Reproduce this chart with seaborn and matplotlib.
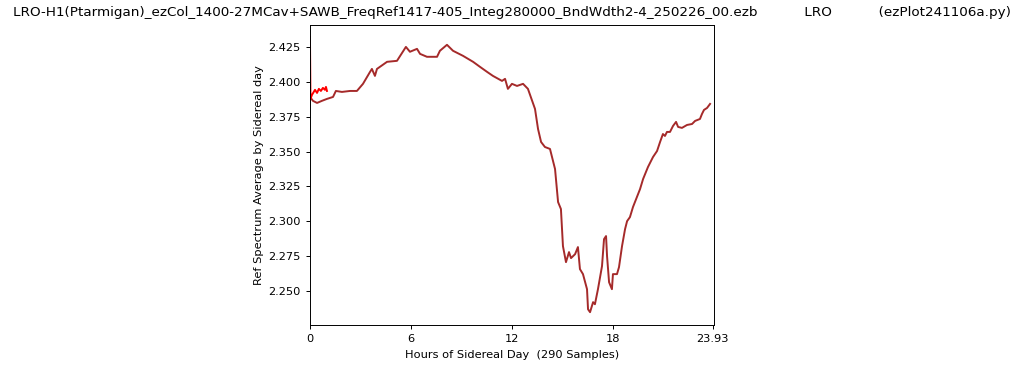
import matplotlib
matplotlib.use('Agg')
import matplotlib.pyplot as plt
import seaborn as sns
import pandas as pd

# Media por dia sideral (linha principal)
horas = [0.00, 0.18, 0.42, 0.71, 1.01, 1.37, 1.54, 1.90, 2.38, 2.79, 3.15, 3.57, 3.68, 3.86, 3.98,
         4.58, 5.17, 5.70, 5.94, 6.36, 6.54, 6.95, 7.55, 7.72, 8.14, 8.50, 9.09, 9.69, 10.10, 10.52,
         10.87, 11.41, 11.59, 11.76, 12.00, 12.30, 12.66, 12.95, 13.37, 13.55, 13.73, 13.96, 14.26,
         14.56, 14.74, 14.91, 15.03, 15.21, 15.39, 15.51, 15.75, 15.92, 16.04, 16.22, 16.46, 16.52,
         16.64, 16.82, 16.93, 17.11, 17.35, 17.47, 17.59, 17.65, 17.77, 17.94, 18.00, 18.24, 18.36,
         18.54, 18.72, 18.84, 19.01, 19.19, 19.61, 19.79, 20.08, 20.38, 20.62, 20.80, 20.97, 21.09,
         21.21, 21.39, 21.57, 21.75, 21.87, 22.10, 22.40, 22.70, 22.88, 23.17, 23.29, 23.41, 23.59, 23.77]
media = [2.3892, 2.3864, 2.3849, 2.3864, 2.3878, 2.3892, 2.3935, 2.3928, 2.3935, 2.3935, 2.3986,
         2.4072, 2.4093, 2.4043, 2.4093, 2.4144, 2.4151, 2.4251, 2.4216, 2.4237, 2.4201, 2.4180,
         2.4180, 2.4223, 2.4266, 2.4223, 2.4187, 2.4144, 2.4108, 2.4072, 2.4043, 2.4007, 2.4022,
         2.3950, 2.3986, 2.3971, 2.3986, 2.3950, 2.3806, 2.3662, 2.3569, 2.3533, 2.3519, 2.3375,
         2.3138, 2.3088, 2.2822, 2.2707, 2.2779, 2.2736, 2.2764, 2.2815, 2.2657, 2.2621, 2.2513,
         2.2369, 2.2348, 2.2420, 2.2405, 2.2513, 2.2678, 2.2872, 2.2894, 2.2750, 2.2563, 2.2513,
         2.2621, 2.2621, 2.2671, 2.2822, 2.2944, 2.3001, 2.3030, 2.3102, 2.3231, 2.3303, 2.3389,
         2.3461, 2.3504, 2.3569, 2.3626, 2.3612, 2.3641, 2.3641, 2.3684, 2.3713, 2.3677, 2.3670,
         2.3691, 2.3698, 2.3720, 2.3734, 2.3770, 2.3799, 2.3813, 2.3842]

# Primeira hora (linha vermelha)
horas_ini = [0.00, 0.03, 0.12, 0.30, 0.42, 0.53, 0.65, 0.77, 0.89, 0.95, 1.01]
media_ini = [2.4323, 2.3878, 2.3907, 2.3943, 2.3921, 2.3950, 2.3935, 2.3957, 2.3943, 2.3964, 2.3935]

x_ticks = [0, 6, 12, 18, 23.93]
x_labels = ['0', '6', '12', '18', '23.93']

titulo = ('LRO-H1(Ptarmigan)_ezCol_1400-27MCav+SAWB_FreqRef1417-405_Integ280000_BndWdth2-4_250226_00.ezb'
          '           LRO           (ezPlot241106a.py)')

df = pd.DataFrame({'Horas': horas, 'Media': media})
df_ini = pd.DataFrame({'Horas': horas_ini, 'Media': media_ini})

fig = plt.figure(figsize=(10.24, 3.7), dpi=100)
ax = fig.add_axes([0.3027, 0.1216, 0.3945, 0.8108])

sns.lineplot(x='Horas', y='Media', data=df, color='brown', linewidth=1.4, estimator=None, sort=False, ax=ax)
sns.lineplot(x='Horas', y='Media', data=df_ini, color='red', linewidth=1.4, estimator=None, sort=False, ax=ax)

ax.set_xlim(0, 24)
ax.set_ylim(2.2256, 2.4408)
ax.set_xticks(x_ticks)
ax.set_xticklabels(x_labels)
ax.yaxis.set_major_formatter(matplotlib.ticker.FormatStrFormatter('%.3f'))
ax.tick_params(labelsize=8.2, length=3, width=0.7)
for s in ax.spines.values():
    s.set_linewidth(0.7)
ax.set_title(titulo, fontsize=9.7, pad=6.5)
ax.set_xlabel('Hours of Sidereal Day  (290 Samples)', fontsize=8.2, labelpad=4)
ax.set_ylabel('Ref Spectrum Average by Sidereal day', fontsize=8.2, labelpad=3)

plt.savefig('out.png', dpi=100)
